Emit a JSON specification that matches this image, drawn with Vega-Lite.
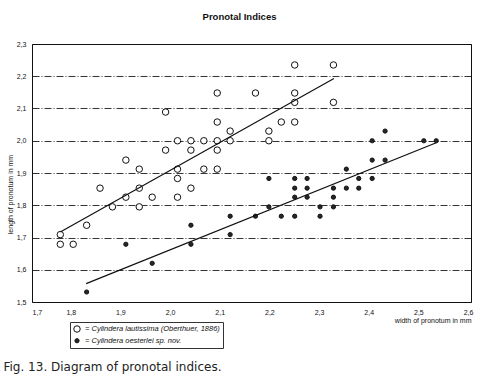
{
  "$schema": "https://vega.github.io/schema/vega-lite/v6.json",
  "background": "white",
  "padding": {"left": 3, "top": 11, "right": 4, "bottom": 4},
  "config": {
    "font": "Liberation Sans",
    "view": {"stroke": "#111", "strokeWidth": 1},
    "axis": {"labelColor": "#111", "titleColor": "#111", "labelFontSize": 7, "titleFontSize": 7, "titleFontWeight": "normal"}
  },
  "title": {"text": "Fig. 13. Diagram of pronotal indices.", "orient": "bottom", "anchor": "start", "font": "DejaVu Sans", "fontSize": 12, "fontWeight": "normal", "color": "#222", "offset": 13, "dx": -2},
  "datasets": {
    "pts": [
      {"species": "Cylindera lautissima (Oberthuer, 1886)", "width": 1.779, "length": 1.709},
      {"species": "Cylindera lautissima (Oberthuer, 1886)", "width": 1.779, "length": 1.679},
      {"species": "Cylindera lautissima (Oberthuer, 1886)", "width": 1.805, "length": 1.679},
      {"species": "Cylindera lautissima (Oberthuer, 1886)", "width": 1.832, "length": 1.738},
      {"species": "Cylindera lautissima (Oberthuer, 1886)", "width": 1.859, "length": 1.853},
      {"species": "Cylindera lautissima (Oberthuer, 1886)", "width": 1.884, "length": 1.795},
      {"species": "Cylindera lautissima (Oberthuer, 1886)", "width": 1.911, "length": 1.825},
      {"species": "Cylindera lautissima (Oberthuer, 1886)", "width": 1.911, "length": 1.940},
      {"species": "Cylindera lautissima (Oberthuer, 1886)", "width": 1.938, "length": 1.912},
      {"species": "Cylindera lautissima (Oberthuer, 1886)", "width": 1.938, "length": 1.853},
      {"species": "Cylindera lautissima (Oberthuer, 1886)", "width": 1.938, "length": 1.795},
      {"species": "Cylindera lautissima (Oberthuer, 1886)", "width": 1.964, "length": 1.825},
      {"species": "Cylindera lautissima (Oberthuer, 1886)", "width": 1.991, "length": 2.089},
      {"species": "Cylindera lautissima (Oberthuer, 1886)", "width": 1.991, "length": 1.971},
      {"species": "Cylindera lautissima (Oberthuer, 1886)", "width": 2.015, "length": 2.000},
      {"species": "Cylindera lautissima (Oberthuer, 1886)", "width": 2.015, "length": 1.912},
      {"species": "Cylindera lautissima (Oberthuer, 1886)", "width": 2.015, "length": 1.883},
      {"species": "Cylindera lautissima (Oberthuer, 1886)", "width": 2.015, "length": 1.825},
      {"species": "Cylindera lautissima (Oberthuer, 1886)", "width": 2.042, "length": 2.000},
      {"species": "Cylindera lautissima (Oberthuer, 1886)", "width": 2.042, "length": 1.971},
      {"species": "Cylindera lautissima (Oberthuer, 1886)", "width": 2.042, "length": 1.853},
      {"species": "Cylindera lautissima (Oberthuer, 1886)", "width": 2.068, "length": 2.000},
      {"species": "Cylindera lautissima (Oberthuer, 1886)", "width": 2.068, "length": 1.912},
      {"species": "Cylindera lautissima (Oberthuer, 1886)", "width": 2.095, "length": 2.148},
      {"species": "Cylindera lautissima (Oberthuer, 1886)", "width": 2.095, "length": 2.058},
      {"species": "Cylindera lautissima (Oberthuer, 1886)", "width": 2.095, "length": 2.000},
      {"species": "Cylindera lautissima (Oberthuer, 1886)", "width": 2.095, "length": 1.971},
      {"species": "Cylindera lautissima (Oberthuer, 1886)", "width": 2.095, "length": 1.912},
      {"species": "Cylindera lautissima (Oberthuer, 1886)", "width": 2.121, "length": 2.030},
      {"species": "Cylindera lautissima (Oberthuer, 1886)", "width": 2.121, "length": 2.000},
      {"species": "Cylindera lautissima (Oberthuer, 1886)", "width": 2.172, "length": 2.148},
      {"species": "Cylindera lautissima (Oberthuer, 1886)", "width": 2.199, "length": 2.030},
      {"species": "Cylindera lautissima (Oberthuer, 1886)", "width": 2.199, "length": 2.000},
      {"species": "Cylindera lautissima (Oberthuer, 1886)", "width": 2.224, "length": 2.058},
      {"species": "Cylindera lautissima (Oberthuer, 1886)", "width": 2.251, "length": 2.235},
      {"species": "Cylindera lautissima (Oberthuer, 1886)", "width": 2.251, "length": 2.148},
      {"species": "Cylindera lautissima (Oberthuer, 1886)", "width": 2.251, "length": 2.119},
      {"species": "Cylindera lautissima (Oberthuer, 1886)", "width": 2.251, "length": 2.058},
      {"species": "Cylindera lautissima (Oberthuer, 1886)", "width": 2.329, "length": 2.235},
      {"species": "Cylindera lautissima (Oberthuer, 1886)", "width": 2.329, "length": 2.119},
      {"species": "Cylindera oesterlei sp. nov.", "width": 1.832, "length": 1.531},
      {"species": "Cylindera oesterlei sp. nov.", "width": 1.911, "length": 1.679},
      {"species": "Cylindera oesterlei sp. nov.", "width": 1.964, "length": 1.620},
      {"species": "Cylindera oesterlei sp. nov.", "width": 2.042, "length": 1.738},
      {"species": "Cylindera oesterlei sp. nov.", "width": 2.042, "length": 1.679},
      {"species": "Cylindera oesterlei sp. nov.", "width": 2.121, "length": 1.766},
      {"species": "Cylindera oesterlei sp. nov.", "width": 2.121, "length": 1.709},
      {"species": "Cylindera oesterlei sp. nov.", "width": 2.172, "length": 1.766},
      {"species": "Cylindera oesterlei sp. nov.", "width": 2.199, "length": 1.883},
      {"species": "Cylindera oesterlei sp. nov.", "width": 2.199, "length": 1.795},
      {"species": "Cylindera oesterlei sp. nov.", "width": 2.224, "length": 1.766},
      {"species": "Cylindera oesterlei sp. nov.", "width": 2.251, "length": 1.883},
      {"species": "Cylindera oesterlei sp. nov.", "width": 2.251, "length": 1.853},
      {"species": "Cylindera oesterlei sp. nov.", "width": 2.251, "length": 1.825},
      {"species": "Cylindera oesterlei sp. nov.", "width": 2.251, "length": 1.766},
      {"species": "Cylindera oesterlei sp. nov.", "width": 2.276, "length": 1.883},
      {"species": "Cylindera oesterlei sp. nov.", "width": 2.276, "length": 1.853},
      {"species": "Cylindera oesterlei sp. nov.", "width": 2.276, "length": 1.825},
      {"species": "Cylindera oesterlei sp. nov.", "width": 2.302, "length": 1.795},
      {"species": "Cylindera oesterlei sp. nov.", "width": 2.302, "length": 1.766},
      {"species": "Cylindera oesterlei sp. nov.", "width": 2.329, "length": 1.853},
      {"species": "Cylindera oesterlei sp. nov.", "width": 2.329, "length": 1.825},
      {"species": "Cylindera oesterlei sp. nov.", "width": 2.329, "length": 1.795},
      {"species": "Cylindera oesterlei sp. nov.", "width": 2.355, "length": 1.912},
      {"species": "Cylindera oesterlei sp. nov.", "width": 2.355, "length": 1.853},
      {"species": "Cylindera oesterlei sp. nov.", "width": 2.380, "length": 1.883},
      {"species": "Cylindera oesterlei sp. nov.", "width": 2.380, "length": 1.853},
      {"species": "Cylindera oesterlei sp. nov.", "width": 2.407, "length": 2.000},
      {"species": "Cylindera oesterlei sp. nov.", "width": 2.407, "length": 1.940},
      {"species": "Cylindera oesterlei sp. nov.", "width": 2.407, "length": 1.883},
      {"species": "Cylindera oesterlei sp. nov.", "width": 2.433, "length": 2.030},
      {"species": "Cylindera oesterlei sp. nov.", "width": 2.433, "length": 1.940},
      {"species": "Cylindera oesterlei sp. nov.", "width": 2.511, "length": 2.000},
      {"species": "Cylindera oesterlei sp. nov.", "width": 2.536, "length": 2.000}
    ],
    "fits": [
      {"species": "Cylindera lautissima (Oberthuer, 1886)", "width": 1.779, "length": 1.717},
      {"species": "Cylindera lautissima (Oberthuer, 1886)", "width": 2.330, "length": 2.193},
      {"species": "Cylindera oesterlei sp. nov.", "width": 1.831, "length": 1.557},
      {"species": "Cylindera oesterlei sp. nov.", "width": 2.536, "length": 1.994}
    ]
  },
  "vconcat": [
    {
      "width": 439,
      "height": 258,
      "title": {"text": "Pronotal Indices", "fontSize": 9.5, "fontWeight": "bold", "color": "#111", "offset": 19, "dx": -12},
      "layer": [
        {
          "data": {"name": "pts"},
          "mark": {"type": "circle", "stroke": "#111", "strokeWidth": 1, "opacity": 1},
          "encoding": {
            "x": {
              "field": "width", "type": "quantitative",
              "scale": {"domain": [1.722, 2.606], "nice": false, "zero": false},
              "axis": {
                "values": [1.722, 1.8, 1.9, 2.0, 2.1, 2.2, 2.3, 2.4, 2.5, 2.6],
                "labelExpr": "datum.value < 1.75 ? '1,7' : replace(format(datum.value, '.1f'), '.', ',')",
                "labelOverlap": false,
                "grid": false, "ticks": false, "domain": false, "labelPadding": 6,
                "title": "width of pronotum in mm", "titleAnchor": "end", "titlePadding": 1
              }
            },
            "y": {
              "field": "length", "type": "quantitative",
              "scale": {"domain": [1.5, 2.3], "nice": false, "zero": false},
              "axis": {
                "values": [1.5, 1.6, 1.7, 1.8, 1.9, 2.0, 2.1, 2.2, 2.3],
                "tickCount": 9,
                "labelExpr": "replace(format(datum.value, '.1f'), '.', ',')",
                "labelOverlap": false,
                "grid": true, "gridColor": "#111", "gridDash": [7, 2, 1, 2], "gridWidth": 1, "gridOpacity": 0.85,
                "ticks": false, "domain": false, "labelPadding": 6,
                "title": "length of pronotum in mm", "titleX": -19, "titleY": 150
              }
            },
            "fill": {
              "field": "species", "type": "nominal",
              "scale": {"domain": ["Cylindera lautissima (Oberthuer, 1886)", "Cylindera oesterlei sp. nov."], "range": ["#ffffff", "#262626"]},
              "legend": {
                "title": null, "orient": "none", "legendX": 38, "legendY": 278,
                "strokeColor": "#333", "padding": 3, "cornerRadius": 0,
                "labelFontSize": 7.5, "labelFontStyle": "italic", "labelColor": "#111",
                "labelExpr": "'= ' + datum.label", "rowPadding": 1,
                "symbolStrokeColor": "#111", "symbolStrokeWidth": 1, "symbolOpacity": 1
              }
            },
            "size": {
              "field": "species", "type": "nominal",
              "scale": {"domain": ["Cylindera lautissima (Oberthuer, 1886)", "Cylindera oesterlei sp. nov."], "range": [42, 18]}
            }
          }
        },
        {
          "data": {"name": "fits"},
          "mark": {"type": "line", "color": "#111", "strokeWidth": 1.2},
          "encoding": {
            "x": {"field": "width", "type": "quantitative"},
            "y": {"field": "length", "type": "quantitative"},
            "detail": {"field": "species"}
          }
        }
      ]
    }
  ]
}
